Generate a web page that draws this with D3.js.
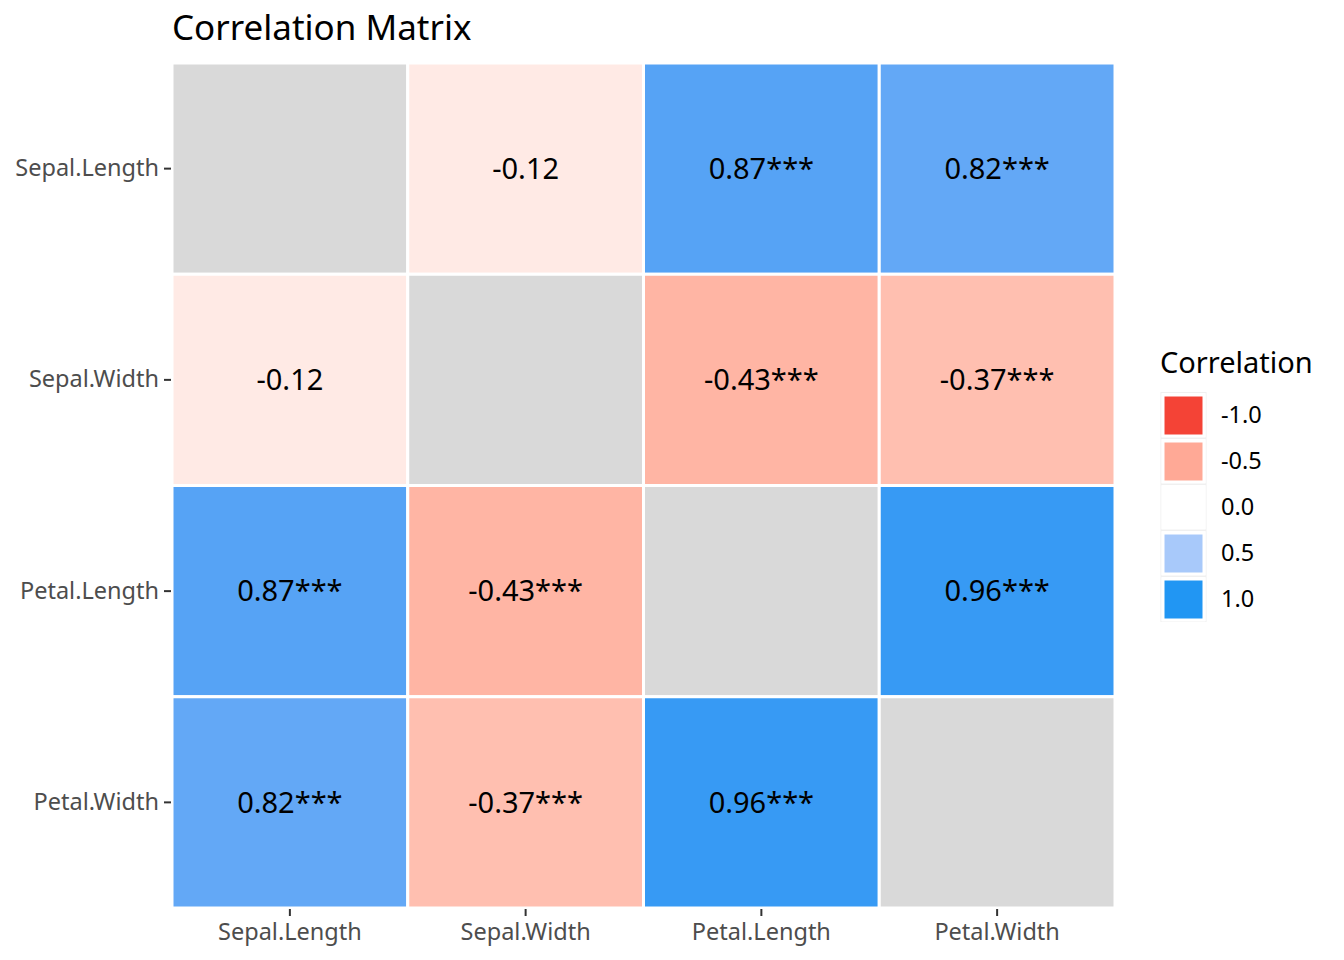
<!DOCTYPE html>
<html>
<head>
<meta charset="utf-8">
<script src="https://cdn.jsdelivr.net/npm/d3@7"></script>
<style>
  body { margin: 0; background: #fff; }
  svg { display: block; font-family: "Noto Sans", "Open Sans", sans-serif; }
</style>
</head>
<body>
<div id="chart"></div>
<script>
// variables, in display order (top row first / left column first)
const vars = ["Sepal.Length", "Sepal.Width", "Petal.Length", "Petal.Width"];

// correlation values, row by row (null on the diagonal)
const corrRows = [
  [null, -0.12, 0.87, 0.82],
  [-0.12, null, -0.43, -0.37],
  [0.87, -0.43, null, 0.96],
  [0.82, -0.37, 0.96, null]
];

// significance stars, row by row
const starRows = [
  ["", "", "***", "***"],
  ["", "", "***", "***"],
  ["***", "***", "", "***"],
  ["***", "***", "***", ""]
];

const legendBreaks = [-1.0, -0.5, 0.0, 0.5, 1.0];

const width = 1344;
const height = 960;
const margin = { top: 63, left: 172, right: 229, bottom: 52 };

const svg = d3
  .select("#chart")
  .append("svg")
  .attr("width", width)
  .attr("height", height)
  .attr("viewBox", `0 0 ${width} ${height}`);

// build cell table from the arrays
const cells = [];
corrRows.forEach((row, i) => {
  row.forEach((v, j) => {
    cells.push({ row: vars[i], col: vars[j], value: v, stars: starRows[i][j] });
  });
});

const x = d3
  .scaleBand()
  .domain(vars)
  .range([margin.left, width - margin.right]);

const y = d3
  .scaleBand()
  .domain(vars)
  .range([margin.top, height - margin.bottom]);

// diverging fill, interpolated in Lab like ggplot's gradient2
const lowCol = "#F44336";
const midCol = "#FFFFFF";
const highCol = "#2196F3";
function fill(v) {
  if (v === null) return "#D9D9D9";
  if (v < 0) return d3.interpolateLab(midCol, lowCol)(-v);
  return d3.interpolateLab(midCol, highCol)(v);
}

// tiles
svg
  .append("g")
  .selectAll("rect")
  .data(cells)
  .join("rect")
  .attr("x", (d) => x(d.col))
  .attr("y", (d) => y(d.row))
  .attr("width", x.bandwidth())
  .attr("height", y.bandwidth())
  .attr("fill", (d) => fill(d.value))
  .attr("stroke", "#fff")
  .attr("stroke-width", 3);

// cell labels
svg
  .append("g")
  .selectAll("text")
  .data(cells.filter((d) => d.value !== null))
  .join("text")
  .attr("x", (d) => x(d.col) + x.bandwidth() / 2)
  .attr("y", (d) => y(d.row) + y.bandwidth() / 2)
  .attr("dy", "0.35em")
  .attr("text-anchor", "middle")
  .style("font-size", "29px")
  .style("fill", "#000")
  .text((d) => d.value.toFixed(2) + d.stars);

// axes
const yAxis = svg
  .append("g")
  .attr("transform", `translate(${margin.left - 1},0)`)
  .call(d3.axisLeft(y).tickSize(7).tickPadding(5));

const xAxis = svg
  .append("g")
  .attr("transform", `translate(0,${height - margin.bottom + 1})`)
  .call(d3.axisBottom(x).tickSize(7).tickPadding(7));

[xAxis, yAxis].forEach((ax) => {
  ax.select(".domain").remove();
  ax.selectAll(".tick line").attr("stroke", "#333333").attr("stroke-width", 2);
  ax.selectAll(".tick text")
    .style("font-size", "23.5px")
    .style("font-family", "Noto Sans")
    .attr("fill", "#4D4D4D");
});

// title
svg
  .append("text")
  .attr("x", 172)
  .attr("y", 40)
  .style("font-size", "35px")
  .style("fill", "#000")
  .text("Correlation Matrix");

// ! Legend
const legend = svg.append("g").attr("transform", "translate(1160,0)");

legend
  .append("text")
  .attr("x", 0)
  .attr("y", 373)
  .style("font-size", "29px")
  .style("fill", "#000")
  .text("Correlation");

const keySize = 46;
const keyTop = 392;

const keys = legend
  .selectAll("g.key")
  .data(legendBreaks)
  .join("g")
  .attr("class", "key")
  .attr("transform", (d, i) => `translate(0,${keyTop + i * keySize})`);

keys
  .append("rect")
  .attr("x", 1)
  .attr("y", 0.5)
  .attr("width", keySize - 1)
  .attr("height", keySize - 1)
  .attr("fill", "#fff")
  .attr("stroke", "#F0F0F0")
  .attr("stroke-width", 1);

keys
  .append("rect")
  .attr("x", 3)
  .attr("y", 3)
  .attr("width", keySize - 5)
  .attr("height", keySize - 5)
  .attr("fill", (d) => fill(d))
  .attr("stroke", "#fff")
  .attr("stroke-width", 3);

keys
  .append("text")
  .attr("x", 61)
  .attr("y", keySize / 2)
  .attr("dy", "0.35em")
  .style("font-size", "23.5px")
  .style("fill", "#000")
  .text((d) => d.toFixed(1));
</script>
</body>
</html>
